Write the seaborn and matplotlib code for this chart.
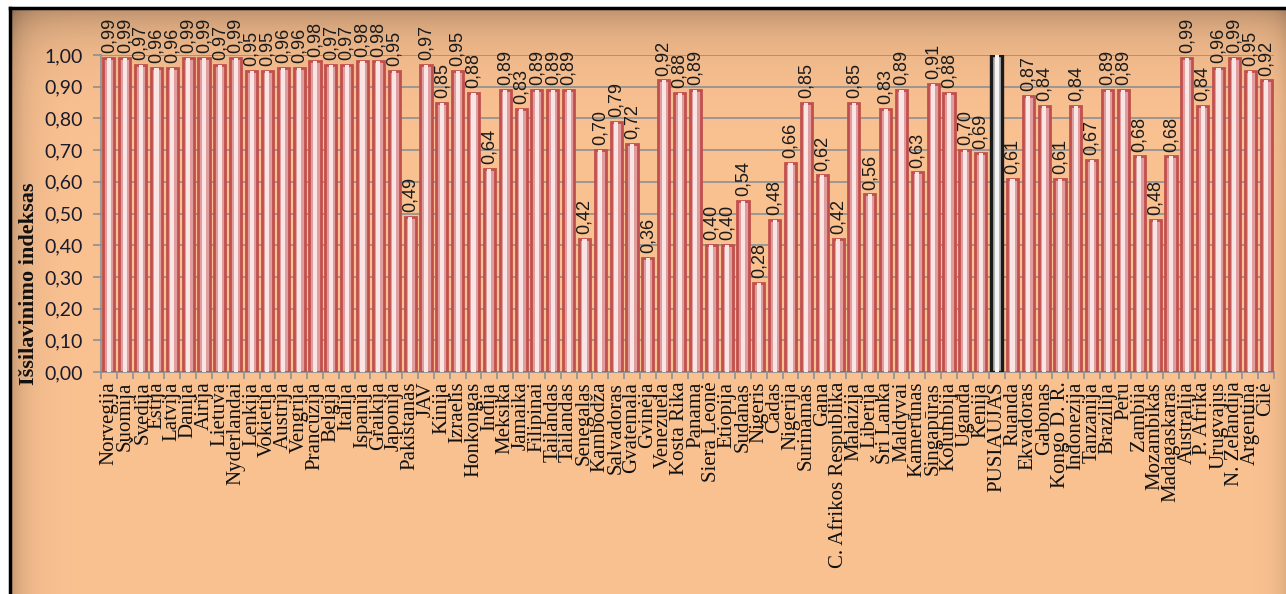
import numpy as np
import pandas as pd
import matplotlib
matplotlib.use("Agg")
import matplotlib.pyplot as plt
import seaborn as sns
from matplotlib.ticker import FuncFormatter, FixedLocator

sns.set_theme(style="white")
plt.rcParams["font.family"] = ["Liberation Serif", "DejaVu Serif"]

# -------- data --------
countries = [
    "Norvegija", "Suomija", "Švedija", "Estija", "Latvija", "Danija", "Airija",
    "Lietuva", "Nyderlandai", "Lenkija", "Vokietija", "Austrija", "Vengrija",
    "Prancūzija", "Belgija", "Italija", "Ispanija", "Graikija", "Japonija",
    "Pakistanas", "JAV", "Kinija", "Izraelis", "Honkongas", "Indija", "Meksika",
    "Jamaika", "Filipinai", "Tailandas", "Tailandas", "Senegalas", "Kambodža",
    "Salvadoras", "Gvatemala", "Gvinėja", "Venezuela", "Kosta Rika", "Panama",
    "Siera Leonė", "Etiopija", "Sudanas", "Nigeris", "Čadas", "Nigerija",
    "Surinamas", "Gana", "C. Afrikos Respublika", "Malaizija", "Liberija",
    "Šri Lanka", "Maldyvai", "Kamerūnas", "Singapūras", "Kolumbija", "Uganda",
    "Kenija", "PUSIAUJAS", "Ruanda", "Ekvadoras", "Gabonas", "Kongo D. R.",
    "Indonezija", "Tanzanija", "Brazilija", "Peru", "Zambija", "Mozambikas",
    "Madagaskaras", "Australija", "P. Afrika", "Urugvajus", "N. Zelandija",
    "Argentina", "Čilė",
]
values = [
    0.99, 0.99, 0.97, 0.96, 0.96, 0.99, 0.99,
    0.97, 0.99, 0.95, 0.95, 0.96, 0.96,
    0.98, 0.97, 0.97, 0.98, 0.98, 0.95,
    0.49, 0.97, 0.85, 0.95, 0.88, 0.64, 0.89,
    0.83, 0.89, 0.89, 0.89, 0.42, 0.70,
    0.79, 0.72, 0.36, 0.92, 0.88, 0.89,
    0.40, 0.40, 0.54, 0.28, 0.48, 0.66,
    0.85, 0.62, 0.42, 0.85, 0.56,
    0.83, 0.89, 0.63, 0.91, 0.88, 0.70,
    0.69, 1.00, 0.61, 0.87, 0.84, 0.61,
    0.84, 0.67, 0.89, 0.89, 0.68, 0.48,
    0.68, 0.99, 0.84, 0.96, 0.99,
    0.95, 0.92,
]
equator = "PUSIAUJAS"
y_ticks = [0.0, 0.1, 0.2, 0.3, 0.4, 0.5, 0.6, 0.7, 0.8, 0.9, 1.0]

df = pd.DataFrame({
    "pos": range(len(countries)),
    "country": countries,
    "value": values,
})
df["group"] = np.where(df["country"] == equator, "equator", "country")

PEACH = np.array([250, 193, 145]) / 255.0

# -------- figure + background panel --------
fig = plt.figure(figsize=(12.86, 5.94), dpi=100, facecolor="white")

bg = fig.add_axes([10 / 1286, 0, 1276 / 1286, 586 / 594], zorder=-5)
H, W = 300, 600
yy = np.linspace(0, 1, H)[:, None]
xx = np.linspace(0, 1, W)[None, :]
shade = 1 - 0.24 * np.exp(-yy / 0.05) - 0.20 * np.exp(-xx / 0.012) - 0.10 * np.exp(-(1 - xx) / 0.008)
img = np.clip(PEACH[None, None, :] * shade[:, :, None], 0, 1)
bg.imshow(img, aspect="auto", extent=[0, 1, 0, 1])
bg.set_xticks([])
bg.set_yticks([])
for side in ["right", "bottom"]:
    bg.spines[side].set_visible(False)
for side in ["top", "left"]:
    bg.spines[side].set_color("black")
    bg.spines[side].set_linewidth(2.5)

# -------- main axes --------
ax = fig.add_axes([101 / 1286, (594 - 372) / 594, 1173 / 1286, 317 / 594])
ax.set_facecolor("none")

groups = list(dict.fromkeys(df["group"]))
sns.barplot(
    data=df, x="pos", y="value", hue="group", hue_order=groups, dodge=False, width=0.7,
    palette={"country": "#EC9292", "equator": "#B5B5B5"},
    linewidth=1.6, legend=False, ax=ax,
)
edge_map = {"country": "#C0504D", "equator": "#1A1A1A"}
for cont, grp in zip(ax.containers, groups):
    for bar in cont:
        bar.set_zorder(3)
        bar.set_edgecolor(edge_map[grp])
        bar.set_linewidth(2.0 if grp == "country" else 2.4)

# lighter centre stripe for the cylinder look
sns.barplot(
    data=df, x="pos", y="value", hue="group", hue_order=groups, dodge=False, width=0.26,
    palette={"country": "#FDE2E2", "equator": "#F4F4F4"},
    linewidth=0, legend=False, ax=ax,
)
for cont in ax.containers[2:]:
    for bar in cont:
        bar.set_zorder(4)

# value labels
for _, row in df.iterrows():
    if row["group"] == "equator":
        continue
    ax.text(row["pos"], row["value"] + 0.015, f"{row['value']:.2f}".replace(".", ","),
            rotation=90, ha="center", va="bottom", fontsize=13,
            family=["Liberation Sans", "DejaVu Sans"], color="#1A1A1A",
            clip_on=False, zorder=6)

ax.set_ylim(0, 1.0)
ax.set_xlim(-0.5, len(countries) - 0.5)
ax.set_yticks(y_ticks)
ax.yaxis.set_major_formatter(FuncFormatter(lambda v, _: f"{v:.2f}".replace(".", ",")))
ax.grid(axis="y", color="#8C9096", linewidth=1.2, zorder=1)
ax.set_axisbelow(True)

ax.set_xticks(df["pos"])
ax.set_xticklabels(df["country"], rotation=90, fontsize=15, color="#111111")
ax.xaxis.set_minor_locator(FixedLocator(np.arange(len(countries) + 1) - 0.5))
ax.tick_params(axis="x", which="major", length=0, pad=7)
ax.tick_params(axis="x", which="minor", length=5, color="#8C9096", width=1.2, bottom=True)
ax.tick_params(axis="y", length=6, color="#8C9096", width=1.2, pad=7, left=True)
for lab in ax.get_yticklabels():
    lab.set_family(["Lato", "DejaVu Sans"])
    lab.set_fontsize(14)
    lab.set_color("#1A1A2A")

for side in ["top", "right"]:
    ax.spines[side].set_visible(False)
for side in ["left", "bottom"]:
    ax.spines[side].set_color("#8C9096")
    ax.spines[side].set_linewidth(1.2)

ax.set_xlabel("")
ax.set_ylabel("Išsilavinimo indeksas", fontsize=16, fontweight="bold", color="#111111",
              family=["Liberation Serif", "DejaVu Serif"])
ax.yaxis.set_label_coords(-0.053, 0.278)

fig.savefig("out.png", dpi=100, facecolor=fig.get_facecolor())
